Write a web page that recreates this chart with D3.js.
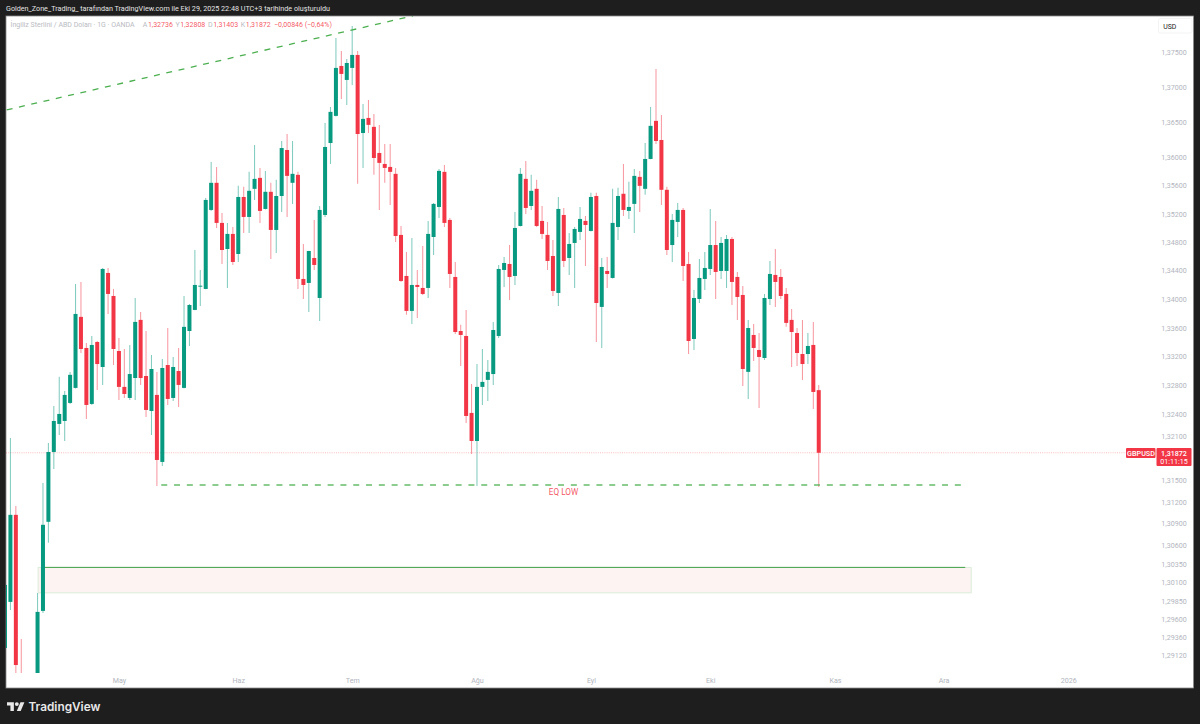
<!DOCTYPE html>
<html>
<head>
<meta charset="utf-8">
<style>
  html, body { margin: 0; padding: 0; background: #1e1e1e; overflow: hidden; }
  text { font-family: Roboto, sans-serif; }
</style>
<script src="https://cdn.jsdelivr.net/npm/d3@7"></script>
</head>
<body>
<div id="wrapper"></div>
<script>
const opens = [
  1.29215,1.29837,1.31021,1.2878,1.2870,1.2860,1.2868,1.29715,1.30926,1.31883,
  1.32269,1.32310,1.32559,1.32767,1.33754,1.33321,1.32545,1.33404,1.33057,1.34368,
  1.34046,1.33279,1.32781,1.32628,1.32904,1.33712,1.32932,1.32448,1.32670,1.31746,
  1.33084,1.32628,1.33001,1.32767,1.33557,1.33851,1.34180,1.34144,1.35254,1.35637,
  1.35071,1.34704,1.34916,1.34634,1.35437,1.35155,1.35552,1.35707,1.35268,1.35510,
  1.34972,1.35451,1.36102,1.35637,1.35750,1.34284,1.34228,1.34578,1.34018,1.35183,
  1.36201,1.36587,1.37300,1.37100,1.37272,1.37458,1.36343,1.36558,1.36431,1.36060,
  1.35904,1.35862,1.35764,1.34902,1.34326,1.33837,1.34200,1.34158,1.34158,1.34873,
  1.35296,1.35792,1.35113,1.34312,1.33557,1.33488,1.32421,1.32034,1.32781,1.32878,
  1.32959,1.33488,1.34410,1.34494,1.34326,1.35028,1.35693,1.35310,1.35552,1.35099,
  1.34902,1.34606,1.34088,1.35183,1.34578,1.34789,1.34944,1.35099,1.34958,1.35451,
  1.33893,1.34396,1.34298,1.35014,1.35482,1.35240,1.35339,1.35721,1.35552,1.35975,
  1.36516,1.36244,1.35538,1.34760,1.35085,1.35254,1.34494,1.33446,1.34004,1.34284,
  1.34424,1.34760,1.34396,1.34396,1.34845,1.34312,1.34060,1.32989,1.33502,1.33293,
  1.33182,1.34004,1.34340,1.34312,1.34074,1.33712,1.33529,1.33237,1.33237,1.33363,1.32736
];
const highs = [
  1.30067,1.32076,1.31143,1.29337,1.2880,1.2875,1.29958,1.31458,1.32007,1.32517,
  1.32920,1.32725,1.32989,1.34214,1.34242,1.33390,1.33488,1.33418,1.34438,1.34438,
  1.34144,1.33460,1.33307,1.33363,1.34018,1.33823,1.33557,1.33223,1.32989,1.33168,
  1.33599,1.33196,1.33321,1.34046,1.33934,1.34690,1.34410,1.35423,1.35933,1.35862,
  1.35212,1.35071,1.35014,1.35594,1.35580,1.35792,1.36173,1.35848,1.35806,1.35637,
  1.35679,1.36230,1.36329,1.36230,1.35792,1.34775,1.34680,1.35113,1.35310,1.36487,
  1.36715,1.37702,1.37515,1.37400,1.37875,1.37515,1.36757,1.36814,1.36615,1.36459,
  1.36187,1.36187,1.35848,1.35028,1.34662,1.34860,1.34410,1.34746,1.35099,1.35353,
  1.35834,1.35890,1.35141,1.34522,1.33643,1.33851,1.32822,1.33098,1.33307,1.33154,
  1.33684,1.34480,1.34592,1.34760,1.35226,1.35848,1.35947,1.35750,1.35679,1.35310,
  1.35085,1.34831,1.35437,1.35282,1.34930,1.35014,1.35296,1.35169,1.35496,1.35496,
  1.34578,1.34592,1.35552,1.35566,1.35904,1.35651,1.35834,1.35806,1.36201,1.36715,
  1.37257,1.36601,1.35580,1.35198,1.35353,1.35282,1.34662,1.34130,1.34564,1.34662,
  1.35268,1.35099,1.34873,1.34902,1.34873,1.34382,1.34186,1.33712,1.33656,1.33529,
  1.34074,1.34536,1.34704,1.34424,1.34158,1.33865,1.33599,1.33712,1.33529,1.33684,1.32808
];
const lows = [
  1.29215,1.29729,1.2870,1.2865,1.2850,1.2848,1.2860,1.29688,1.30640,1.31650,
  1.32117,1.32034,1.32545,1.32760,1.33251,1.32338,1.32531,1.32739,1.32808,1.33795,
  1.33084,1.32600,1.32628,1.32600,1.32600,1.32808,1.32365,1.32117,1.31417,1.31691,
  1.32531,1.32586,1.32503,1.32760,1.33349,1.33845,1.33907,1.34140,1.35240,1.35000,
  1.34494,1.34158,1.34480,1.34522,1.34930,1.34930,1.35395,1.35071,1.35260,1.34564,
  1.34648,1.35226,1.35155,1.35339,1.34144,1.34004,1.33823,1.34410,1.33698,1.35155,
  1.35904,1.36580,1.36828,1.36743,1.37029,1.35623,1.35848,1.36343,1.35750,1.35254,
  1.35637,1.35325,1.34803,1.34242,1.33782,1.33656,1.33740,1.34060,1.34018,1.34620,
  1.35141,1.35014,1.34158,1.33516,1.33070,1.32283,1.31855,1.31417,1.32531,1.32586,
  1.32808,1.33460,1.34172,1.33990,1.34200,1.35020,1.35198,1.35254,1.35014,1.34845,
  1.34410,1.34046,1.33907,1.34452,1.34340,1.34158,1.34831,1.34466,1.34950,1.33404,
  1.33321,1.34158,1.34290,1.34831,1.35169,1.35127,1.34930,1.35226,1.35468,1.35970,
  1.36187,1.35325,1.34620,1.34522,1.34873,1.34256,1.33237,1.33293,1.33948,1.34130,
  1.34340,1.34004,1.34284,1.34158,1.33920,1.33712,1.32795,1.32614,1.33140,1.32490,
  1.33154,1.33920,1.33893,1.34004,1.33615,1.33057,1.33070,1.32878,1.33098,1.32476,1.31403
];
const closes = [
  1.30067,1.31021,1.28985,1.2872,1.2860,1.2868,1.29702,1.30885,1.31883,1.32310,
  1.32407,1.32670,1.32948,1.33795,1.33307,1.32531,1.33363,1.33098,1.34424,1.34074,
  1.33307,1.32781,1.32683,1.32959,1.33684,1.32904,1.32462,1.33029,1.31773,1.33043,
  1.32614,1.33057,1.32808,1.33615,1.33920,1.34200,1.34190,1.35395,1.35637,1.35071,
  1.34690,1.34916,1.34522,1.35437,1.35155,1.35524,1.35693,1.35240,1.35510,1.34972,
  1.35451,1.36130,1.35735,1.35764,1.34284,1.34200,1.34676,1.34480,1.35254,1.36145,
  1.36644,1.37272,1.37186,1.37343,1.37458,1.36329,1.36544,1.36459,1.35989,1.35919,
  1.35848,1.35792,1.34887,1.34256,1.33837,1.34200,1.34172,1.34074,1.34916,1.35339,
  1.35806,1.35071,1.34354,1.33543,1.33502,1.32379,1.32034,1.32781,1.32850,1.32989,
  1.33571,1.34424,1.34508,1.34312,1.35000,1.35764,1.35282,1.35524,1.35028,1.34916,
  1.34536,1.34116,1.35268,1.34536,1.34775,1.34986,1.35127,1.35042,1.35437,1.33948,
  1.34452,1.34354,1.35071,1.35451,1.35254,1.35296,1.35735,1.35594,1.35975,1.36445,
  1.36230,1.35538,1.34690,1.35113,1.35254,1.34466,1.33418,1.34018,1.34298,1.34438,
  1.34760,1.34382,1.34789,1.34845,1.34242,1.34032,1.33029,1.33599,1.33321,1.33196,
  1.34018,1.34354,1.34242,1.34046,1.33670,1.33543,1.33251,1.33098,1.33349,1.32711,1.31872
];

const priceTicks = [1.375,1.37,1.365,1.36,1.356,1.352,1.348,1.344,1.34,1.336,1.332,1.328,1.324,1.321,
  1.315,1.312,1.309,1.306,1.3035,1.301,1.2985,1.296,1.2936,1.2912];
const timeTickBars = [21,43,64,87,108,130,153,173,196];
const timeTickLabels = ['May','Haz','Tem','Ağu','Eyl','Eki','Kas','Ara','2026'];

// drawings on the chart: bar index and price
const trendBars = [0.31,75.2];
const trendPrices = [1.36672,1.38019];
const eqLowBars = [28.8,176.6];
const eqLowPrice = 1.3143;
const zoneBars = [6.1,178.1];
const zonePrices = [1.30305,1.29959];
const zoneLineBars = [7,177];

const lastPrice = 1.31872;
const titleText = 'Golden_Zone_Trading_ tarafından TradingView.com ile Eki 29, 2025 22:48 UTC+3 tarihinde oluşturuldu';
const legendName = 'İngiliz Sterlini / ABD Doları · 1G · OANDA';
const legendValues = [['A','1,32736',142.7],['Y','1,32808',175.5],['D','1,31403',208],['K','1,31872',240.7]];
const legendChange = '−0,00846 (−0,64%)';

const colorUp = '#089981';
const colorDown = '#f23645';
const colorDrawing = '#4caf50';
const colorAxisText = '#b2b5be';

const dimensions = { width: 1200, height: 724, left: 6, right: 1193.5, top: 16, bottom: 688, paneBottom: 673, paneRight: 1157 };

const wrapper = d3.select('#wrapper')
  .append('svg')
  .attr('width', dimensions.width)
  .attr('height', dimensions.height)
  .style('display', 'block');

wrapper.append('rect')
  .attr('x', dimensions.left)
  .attr('y', dimensions.top)
  .attr('width', dimensions.right - dimensions.left)
  .attr('height', dimensions.bottom - dimensions.top)
  .attr('fill', '#fff')
  .attr('stroke', '#8a8a8a')
  .attr('stroke-width', 0.8);

wrapper.append('defs').append('clipPath').attr('id', 'pane')
  .append('rect')
  .attr('x', dimensions.left)
  .attr('y', dimensions.top)
  .attr('width', dimensions.right - dimensions.left)
  .attr('height', dimensions.paneBottom - dimensions.top);

const xScale = d3.scaleLinear().domain([0, 196]).range([5, 1068.3]);
const yScale = d3.scaleLog().domain([1.375, 1.2912]).range([52, 655]);

const pane = wrapper.append('g').attr('clip-path', 'url(#pane)');

// zone box under the candles
pane.append('rect')
  .attr('x', xScale(zoneBars[0]))
  .attr('y', yScale(zonePrices[0]))
  .attr('width', xScale(zoneBars[1]) - xScale(zoneBars[0]))
  .attr('height', yScale(zonePrices[1]) - yScale(zonePrices[0]))
  .attr('fill', '#fdf3f3')
  .attr('stroke', '#d6ecd7')
  .attr('stroke-width', 0.9);

pane.append('line')
  .attr('x1', xScale(zoneLineBars[0]))
  .attr('x2', xScale(zoneLineBars[1]))
  .attr('y1', yScale(zonePrices[0]))
  .attr('y2', yScale(zonePrices[0]))
  .attr('stroke', '#43a047')
  .attr('stroke-width', 1);

// last price line
pane.append('line')
  .attr('x1', dimensions.left)
  .attr('x2', 1126)
  .attr('y1', yScale(lastPrice))
  .attr('y2', yScale(lastPrice))
  .attr('stroke', colorDown)
  .attr('stroke-opacity', 0.55)
  .attr('stroke-width', 0.6)
  .attr('stroke-dasharray', '1 1.2');

const candles = d3.range(opens.length);
const candleColor = i => closes[i] >= opens[i] ? colorUp : colorDown;

pane.append('g').selectAll('line')
  .data(candles)
  .join('line')
  .attr('x1', i => xScale(i))
  .attr('x2', i => xScale(i))
  .attr('y1', i => yScale(highs[i]))
  .attr('y2', i => yScale(lows[i]))
  .attr('stroke', candleColor)
  .attr('stroke-opacity', 0.5)
  .attr('stroke-width', 1.05);

pane.append('g').selectAll('rect')
  .data(candles)
  .join('rect')
  .attr('x', i => xScale(i) - 2)
  .attr('width', 4)
  .attr('y', i => yScale(Math.max(opens[i], closes[i])))
  .attr('height', i => Math.max(1, Math.abs(yScale(opens[i]) - yScale(closes[i]))))
  .attr('fill', candleColor);

// trend line and equal lows
const drawingLine = d3.line().x(d => xScale(d[0])).y(d => yScale(d[1]));

pane.append('path')
  .attr('d', drawingLine(d3.zip(trendBars, trendPrices)))
  .attr('fill', 'none')
  .attr('stroke', colorDrawing)
  .attr('stroke-width', 1.3)
  .attr('stroke-dasharray', '6 6.6');

pane.append('path')
  .attr('d', drawingLine(eqLowBars.map(b => [b, eqLowPrice])))
  .attr('fill', 'none')
  .attr('stroke', colorDrawing)
  .attr('stroke-opacity', 0.85)
  .attr('stroke-width', 1.4)
  .attr('stroke-dasharray', '6 6.8');

wrapper.append('text')
  .attr('x', 563.5)
  .attr('y', yScale(eqLowPrice) + 10.5)
  .attr('text-anchor', 'middle')
  .attr('font-size', 8.2)
  .attr('fill', colorDown)
  .attr('fill-opacity', 0.85)
  .text('EQ LOW');

// axes
const yAxis = d3.axisRight(yScale)
  .tickValues(priceTicks)
  .tickSize(0)
  .tickPadding(0)
  .tickFormat(d => d.toFixed(5).replace('.', ','));

const yAxisGroup = wrapper.append('g')
  .attr('transform', 'translate(1161.3,0)')
  .call(yAxis);
yAxisGroup.select('.domain').remove();
yAxisGroup.selectAll('text').attr('font-size', 7.1).attr('font-family', 'Roboto, sans-serif').attr('fill', colorAxisText);

const xAxis = d3.axisBottom(xScale)
  .tickValues(timeTickBars)
  .tickSize(0)
  .tickPadding(0)
  .tickFormat((d, i) => timeTickLabels[i]);

const xAxisGroup = wrapper.append('g')
  .attr('transform', 'translate(0,678)')
  .call(xAxis);
xAxisGroup.select('.domain').remove();
xAxisGroup.selectAll('text').attr('font-size', 7.1).attr('font-family', 'Roboto, sans-serif').attr('fill', colorAxisText);

// USD box
wrapper.append('rect')
  .attr('x', 1158.5).attr('y', 18.5).attr('width', 33.5).attr('height', 14.5).attr('rx', 1.5)
  .attr('fill', '#fff').attr('stroke', '#eeeeee').attr('stroke-width', 0.7);
wrapper.append('text')
  .attr('x', 1163.2).attr('y', 28.6)
  .attr('font-size', 6.9).attr('fill', '#222')
  .text('USD');

// price labels
wrapper.append('rect')
  .attr('x', 1126).attr('y', yScale(lastPrice) - 4.7).attr('width', 29.5).attr('height', 10).attr('rx', 1)
  .attr('fill', colorDown);
wrapper.append('text')
  .attr('x', 1141).attr('y', yScale(lastPrice) + 3)
  .attr('text-anchor', 'middle').attr('font-size', 7.2).attr('font-weight', 500).attr('fill', '#fff')
  .text('GBPUSD');
wrapper.append('rect')
  .attr('x', 1156.5).attr('y', yScale(lastPrice) - 4.7).attr('width', 35).attr('height', 18).attr('rx', 1)
  .attr('fill', colorDown);
wrapper.append('text')
  .attr('x', 1174).attr('y', yScale(lastPrice) + 2.8)
  .attr('text-anchor', 'middle').attr('font-size', 7.1).attr('font-weight', 500).attr('fill', '#fff')
  .text(lastPrice.toFixed(5).replace('.', ','));
wrapper.append('text')
  .attr('x', 1174).attr('y', yScale(lastPrice) + 10.8)
  .attr('text-anchor', 'middle').attr('font-size', 7.1).attr('fill', '#fff')
  .text('01:11:15');

// header and legend
wrapper.append('text')
  .attr('x', 6).attr('y', 11.2)
  .attr('font-size', 7.2).attr('fill', '#e4e4e4')
  .text(titleText);

wrapper.append('text')
  .attr('x', 10.5).attr('y', 26.6)
  .attr('font-size', 7).attr('fill', '#b9bbc2')
  .text(legendName);

legendValues.forEach(([letter, value, x]) => {
  const label = wrapper.append('text').attr('x', x).attr('y', 26.6).attr('font-size', 7);
  label.append('tspan').attr('fill', '#b9bbc2').text(letter);
  label.append('tspan').attr('fill', colorDown).attr('fill-opacity', 0.85).attr('dx', 0.6).text(value);
});

wrapper.append('text')
  .attr('x', 274).attr('y', 26.6)
  .attr('font-size', 7).attr('fill', colorDown).attr('fill-opacity', 0.85)
  .text(legendChange);

// footer logo
const logo = wrapper.append('g').attr('transform', 'translate(7,700.2) scale(0.49)').attr('fill', '#e8e8e8');
logo.append('path').attr('d', 'M14 22H7V11H0V4h14v18zM28 22h-8l7.5-18h8L28 22z');
logo.append('circle').attr('cx', 20).attr('cy', 8).attr('r', 4);

wrapper.append('text')
  .attr('x', 28.5).attr('y', 711)
  .attr('font-size', 11.8).attr('font-weight', 600).attr('fill', '#e8e8e8')
  .style('font-family', 'Inter, sans-serif')
  .text('TradingView');
</script>
</body>
</html>
